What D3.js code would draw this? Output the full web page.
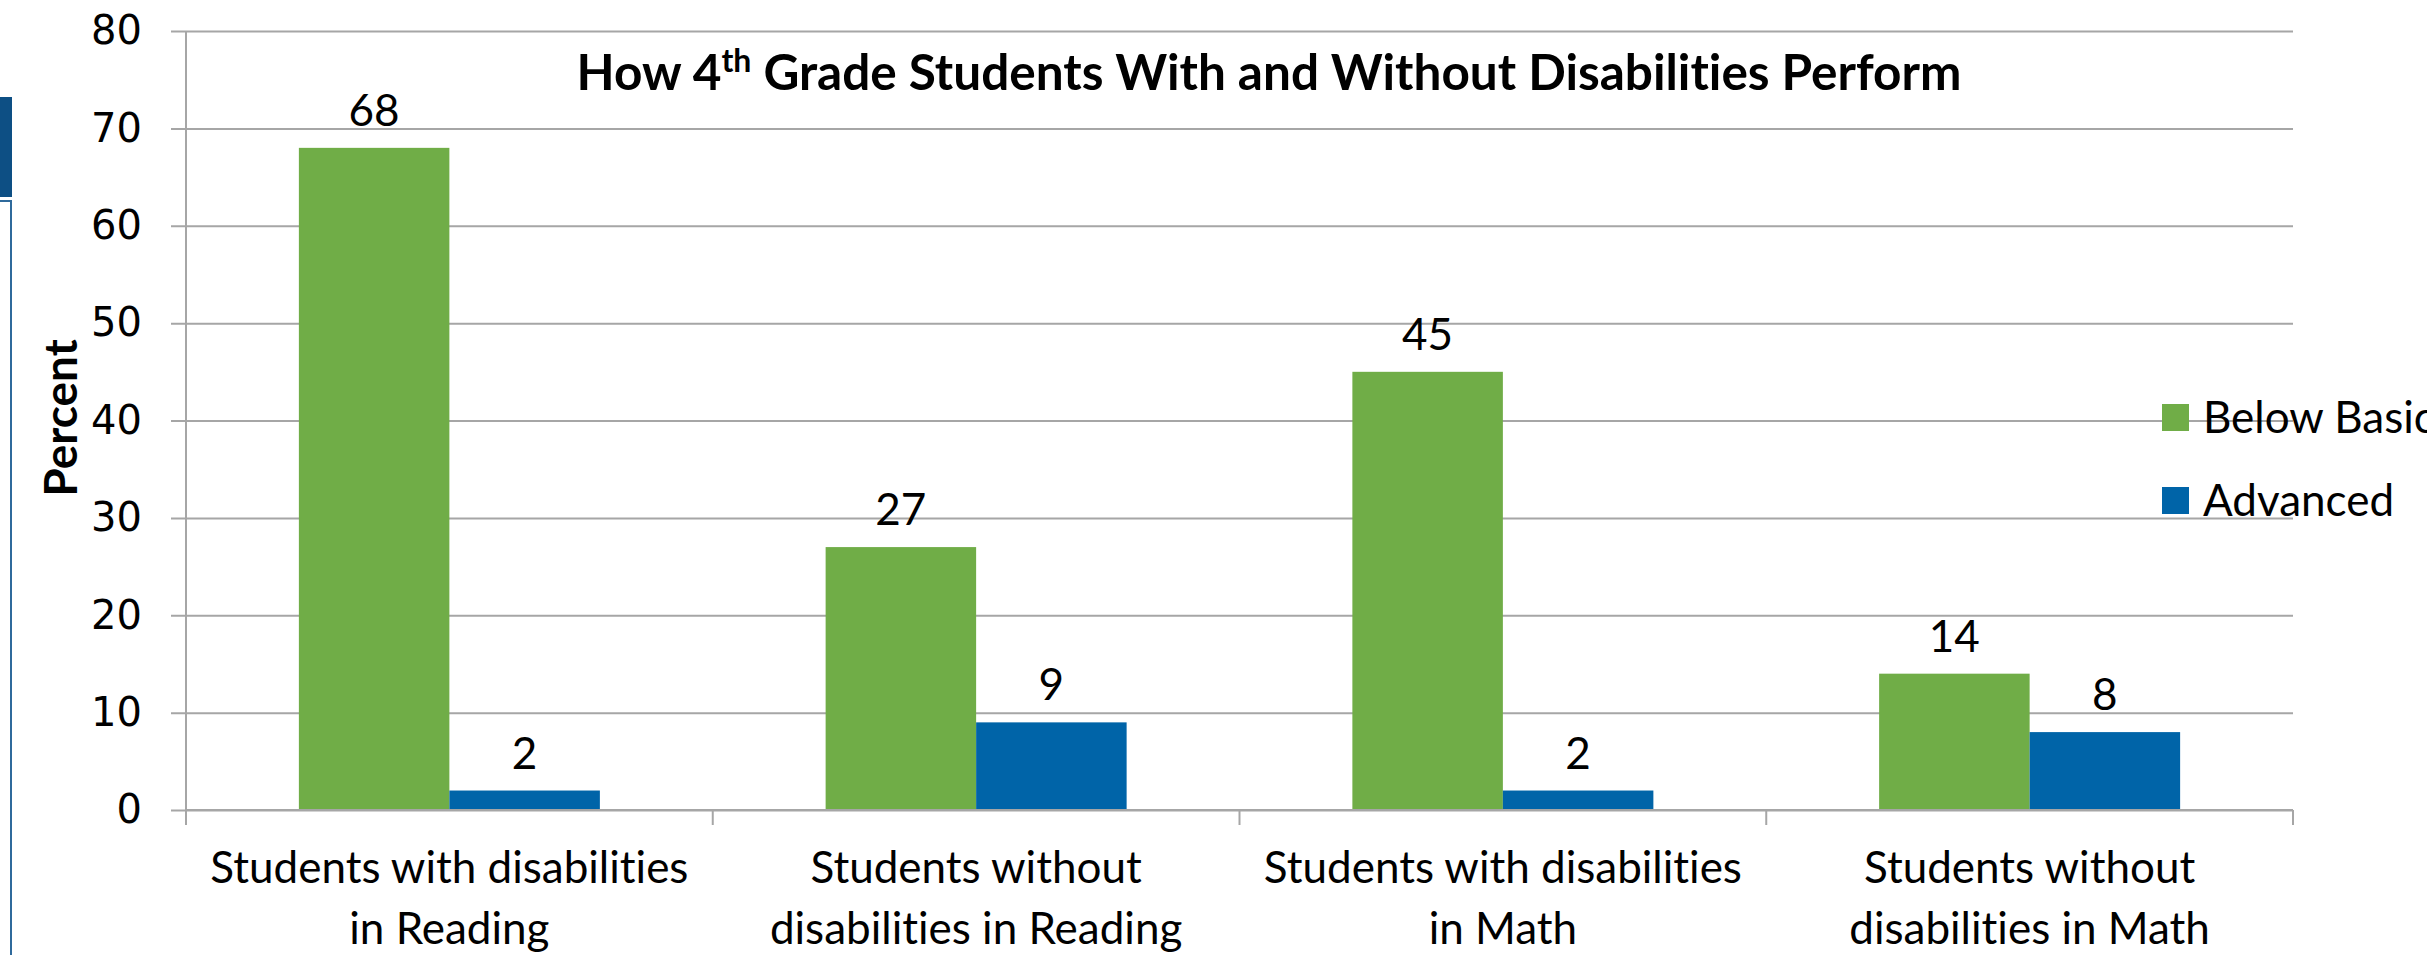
<!DOCTYPE html>
<html>
<head>
<meta charset="utf-8">
<script src="https://cdn.jsdelivr.net/npm/d3@7"></script>
<style>
  html, body { margin: 0; padding: 0; background: #ffffff; overflow: hidden; }
  svg { display: block; }
  text { font-variant-ligatures: none; font-feature-settings: "liga" 0, "clig" 0; }
</style>
</head>
<body>
<script>
// Category labels, one entry per line of the wrapped label
const categories = [
  ["Students with disabilities", "in Reading"],
  ["Students without", "disabilities in Reading"],
  ["Students with disabilities", "in Math"],
  ["Students without", "disabilities in Math"]
];
const seriesNames = ["Below Basic", "Advanced"];
const belowBasic = [68, 27, 45, 14];
const advanced = [2, 9, 2, 8];
const yTicks = [0, 10, 20, 30, 40, 50, 60, 70, 80];
const seriesColors = ["#70ad47", "#0064a8"];

const W = 2427, H = 955;
const plot = { left: 186, right: 2293, top: 31, bottom: 810 };
const gridColor = "#a6a6a6";
const textFont = "Lato, 'Open Sans', sans-serif";

const svg = d3.select("body").append("svg")
  .attr("width", W).attr("height", H);

// Decorative side panel at the far left
svg.append("rect").attr("x", 0).attr("y", 97).attr("width", 12).attr("height", 100)
  .attr("fill", "#0d4f84");
svg.append("path").attr("d", "M0,201 H11 V955")
  .attr("fill", "none").attr("stroke", "#2f6a9c").attr("stroke-width", 2);

const series = seriesNames.map((name, i) => ({
  name, color: seriesColors[i], values: i === 0 ? belowBasic : advanced
}));

const x = d3.scaleBand()
  .domain(d3.range(categories.length))
  .range([plot.left, plot.right])
  .paddingInner(0).paddingOuter(0);

const xSub = d3.scaleBand()
  .domain(seriesNames)
  .range([0, x.bandwidth()])
  .paddingInner(0).paddingOuter(0.75);

const y = d3.scaleLinear().domain([0, 80]).range([plot.bottom, plot.top]);

// Horizontal gridlines with value labels
const yAxis = d3.axisLeft(y)
  .tickValues(yTicks)
  .tickSizeInner(-(plot.right - plot.left + 15))
  .tickSizeOuter(0)
  .tickPadding(29)
  .tickFormat(d3.format("d"));

const gy = svg.append("g")
  .attr("transform", `translate(${plot.left - 15},0)`)
  .call(yAxis);
gy.select(".domain").remove();
gy.selectAll(".tick line").attr("stroke", gridColor).attr("stroke-width", 2);
gy.selectAll(".tick text")
  .attr("font-family", "'DejaVu Sans', Verdana, sans-serif")
  .attr("font-size", 40)
  .attr("fill", "#000");

// Vertical axis line
svg.append("line")
  .attr("x1", plot.left).attr("x2", plot.left)
  .attr("y1", plot.top).attr("y2", plot.bottom + 15)
  .attr("stroke", gridColor).attr("stroke-width", 2);

// Category separators below the baseline
svg.append("g").selectAll("line")
  .data(d3.range(categories.length + 1))
  .join("line")
  .attr("x1", i => plot.left + i * x.step())
  .attr("x2", i => plot.left + i * x.step())
  .attr("y1", plot.bottom).attr("y2", plot.bottom + 15)
  .attr("stroke", gridColor).attr("stroke-width", 2);

// Bars
const groups = svg.append("g").selectAll("g")
  .data(categories.map((c, i) => i))
  .join("g")
  .attr("transform", i => `translate(${x(i)},0)`);

groups.selectAll("rect")
  .data(i => series.map(s => ({ s, v: s.values[i] })))
  .join("rect")
  .attr("x", d => xSub(d.s.name))
  .attr("width", xSub.bandwidth())
  .attr("y", d => y(d.v))
  .attr("height", d => y(0) - y(d.v))
  .attr("fill", d => d.s.color);

// Value labels above each bar
groups.selectAll("text.value")
  .data(i => series.map(s => ({ s, v: s.values[i] })))
  .join("text")
  .attr("class", "value")
  .attr("x", d => xSub(d.s.name) + xSub.bandwidth() / 2)
  .attr("y", d => y(d.v) - 22)
  .attr("text-anchor", "middle")
  .attr("font-family", textFont)
  .attr("font-size", 44)
  .attr("fill", "#000")
  .text(d => d.v);

// Baseline drawn over the bars
svg.append("line")
  .attr("x1", plot.left).attr("x2", plot.right)
  .attr("y1", plot.bottom).attr("y2", plot.bottom)
  .attr("stroke", gridColor).attr("stroke-width", 2);

// Category labels
const catText = svg.append("g").selectAll("text")
  .data(categories)
  .join("text")
  .attr("text-anchor", "middle")
  .attr("font-family", textFont)
  .attr("font-size", 44)
  .attr("fill", "#000");
catText.selectAll("tspan")
  .data((lines, i) => lines.map(l => ({ l, i })))
  .join("tspan")
  .attr("x", d => x(d.i) + x.bandwidth() / 2)
  .attr("y", (d, j) => 883 + j * 61)
  .text(d => d.l);

// Chart title
const title = svg.append("text")
  .attr("x", 1269).attr("y", 90)
  .attr("text-anchor", "middle")
  .attr("font-family", textFont)
  .attr("font-weight", "bold")
  .attr("font-size", 49.5)
  .attr("fill", "#000");
title.append("tspan").text("How 4");
title.append("tspan").attr("dy", -18).attr("font-size", 32).text("th");
title.append("tspan").attr("dy", 18).text(" Grade Students With and Without Disabilities Perform");

// Axis title
svg.append("text")
  .attr("transform", "translate(77,418) rotate(-90)")
  .attr("text-anchor", "middle")
  .attr("font-family", textFont)
  .attr("font-weight", "bold")
  .attr("font-size", 46)
  .attr("fill", "#000")
  .text("Percent");

// Legend
const legend = svg.append("g").selectAll("g")
  .data(series)
  .join("g")
  .attr("transform", (d, i) => `translate(2162,${404 + i * 83})`);
legend.append("rect")
  .attr("width", 27).attr("height", 27)
  .attr("fill", d => d.color);
legend.append("text")
  .attr("x", 41).attr("y", 29)
  .attr("font-family", textFont)
  .attr("font-size", 44)
  .attr("fill", "#000")
  .text(d => d.name);
</script>
</body>
</html>
